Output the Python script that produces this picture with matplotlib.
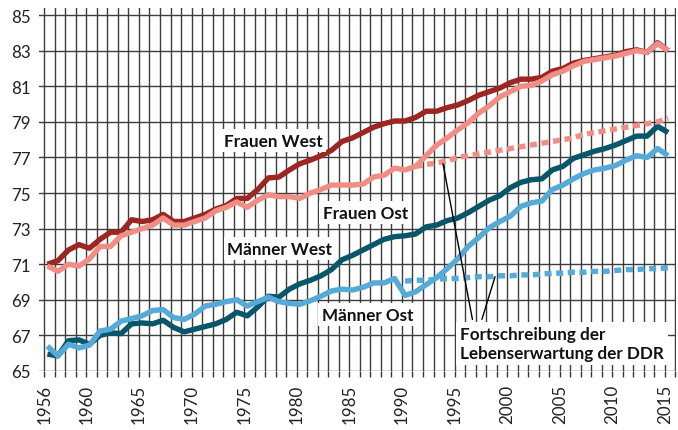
import numpy as np
import matplotlib
matplotlib.use("Agg")
import matplotlib.pyplot as plt

# life expectancy at birth, 1956-2015
years = np.arange(1956, 2016)

frauen_west = [71.0, 71.2, 71.8, 72.1, 71.9, 72.4, 72.8, 72.8, 73.5, 73.4,
               73.5, 73.8, 73.4, 73.4, 73.6, 73.8, 74.1, 74.3, 74.7, 74.7,
               75.2, 75.85, 75.9, 76.3, 76.65, 76.85, 77.1, 77.4, 77.9, 78.1,
               78.4, 78.7, 78.9, 79.05, 79.05, 79.25, 79.6, 79.6, 79.8, 79.95,
               80.2, 80.5, 80.7, 80.9, 81.2, 81.4, 81.4, 81.5, 81.85, 82.0,
               82.3, 82.45, 82.55, 82.65, 82.75, 82.95, 83.05, 82.9, 83.45, 83.0]

frauen_ost = [70.9, 70.6, 71.0, 70.9, 71.3, 72.0, 72.0, 72.6, 72.8, 73.0,
              73.2, 73.6, 73.2, 73.2, 73.4, 73.6, 74.0, 74.2, 74.5, 74.2,
              74.6, 74.9, 74.8, 74.8, 74.7, 75.0, 75.2, 75.45, 75.45, 75.45,
              75.5, 75.9, 76.0, 76.4, 76.3, 76.5, 77.1, 77.7, 78.1, 78.55,
              78.95, 79.5, 79.9, 80.4, 80.7, 81.0, 81.05, 81.3, 81.65, 81.85,
              82.15, 82.4, 82.5, 82.6, 82.7, 82.85, 83.0, 82.9, 83.4, 83.0]

maenner_west = [65.95, 65.85, 66.7, 66.75, 66.5, 67.0, 67.15, 67.1, 67.65, 67.7,
                67.65, 67.85, 67.45, 67.2, 67.35, 67.5, 67.65, 67.9, 68.3, 68.1,
                68.6, 69.2, 69.15, 69.6, 69.9, 70.1, 70.35, 70.7, 71.25, 71.5,
                71.8, 72.1, 72.4, 72.55, 72.6, 72.7, 73.1, 73.2, 73.45, 73.6,
                73.9, 74.25, 74.6, 74.85, 75.3, 75.6, 75.75, 75.8, 76.3, 76.5,
                76.95, 77.15, 77.35, 77.5, 77.7, 77.95, 78.2, 78.2, 78.75, 78.4]

maenner_ost = [66.4, 65.85, 66.5, 66.3, 66.45, 67.25, 67.35, 67.8, 67.95, 68.1,
               68.4, 68.45, 68.0, 67.9, 68.2, 68.65, 68.75, 68.9, 69.0, 68.65,
               68.9, 69.15, 68.9, 68.8, 68.75, 68.95, 69.2, 69.5, 69.6, 69.55,
               69.7, 69.95, 69.95, 70.2, 69.25, 69.45, 69.85, 70.25, 70.75, 71.3,
               72.0, 72.5, 73.05, 73.4, 73.7, 74.25, 74.45, 74.55, 75.2, 75.45,
               75.8, 76.1, 76.3, 76.4, 76.55, 76.85, 77.1, 77.0, 77.5, 77.1]

# Fortschreibung der DDR-Lebenserwartung
proj_frauen_years = np.arange(1991, 2016)
proj_frauen = [76.5, 76.6, 76.7, 76.8, 77.0, 77.1, 77.2, 77.3, 77.4, 77.5,
               77.6, 77.7, 77.8, 77.9, 78.0, 78.1, 78.3, 78.4, 78.5, 78.6,
               78.7, 78.8, 78.9, 79.0, 79.2]
proj_maenner_years = np.arange(1990, 2016)
proj_maenner = [70.05, 70.1, 70.1, 70.15, 70.2, 70.2, 70.25, 70.3, 70.3, 70.35,
                70.35, 70.4, 70.4, 70.45, 70.5, 70.5, 70.55, 70.55, 70.6, 70.6,
                70.65, 70.7, 70.7, 70.75, 70.75, 70.8]

label_years = [1956, 1960, 1965, 1970, 1975, 1980, 1985, 1990, 1995, 2000,
               2005, 2010, 2015]
y_ticks = [65, 67, 69, 71, 73, 75, 77, 79, 81, 83, 85]

c_fw = '#9b2622'
c_fo = '#f08e86'
c_mw = '#07566a'
c_mo = '#56aad8'

# values are plotted a little after the year gridline (mid-year)
mid = 0.3

fig = plt.figure(figsize=(6.78, 4.31), dpi=100)
ax = fig.add_axes([39 / 678, 59 / 431, 637 / 678, 363 / 431])

lw = 3.9
ax.plot(years + mid, frauen_west, color=c_fw, lw=lw, solid_capstyle='butt', zorder=3)
ax.plot(years + mid, frauen_ost, color=c_fo, lw=lw, solid_capstyle='butt', zorder=3)
ax.plot(years + mid, maenner_west, color=c_mw, lw=lw, solid_capstyle='butt', zorder=3)
ax.plot(years + mid, maenner_ost, color=c_mo, lw=lw, solid_capstyle='butt', zorder=3)
ax.plot(proj_frauen_years + mid, proj_frauen, color=c_fo, lw=lw,
        linestyle=(0, (1.3, 0.85)), dash_capstyle='butt', zorder=3)
ax.plot(proj_maenner_years + mid, proj_maenner, color=c_mo, lw=lw,
        linestyle=(0, (1.3, 0.85)), dash_capstyle='butt', zorder=3)

ax.set_xlim(1955.5, 2016.05)
ax.set_ylim(65, 85.4)

ax.set_xticks(years.tolist() + [2016])
ax.set_xticklabels([str(y) if y in label_years else '' for y in years] + [''],
                   rotation=90, family='Lato', fontsize=12.2)
ax.set_yticks(y_ticks)
ax.set_yticklabels([str(v) for v in y_ticks], family='Lato', fontsize=12.2)
ax.tick_params(axis='x', length=4.5, width=1.0, color='#333333', pad=5,
               labelcolor='#222222')
ax.tick_params(axis='y', length=0, pad=6, labelcolor='#222222')

ax.grid(True, color='#3c3c3c', lw=1.0)
ax.set_axisbelow(True)
for s in ax.spines.values():
    s.set_visible(False)

box = dict(facecolor='white', edgecolor='none', boxstyle='square,pad=0.2')
tkw = dict(family='Lato', fontweight='bold', fontsize=12.3, color='#111111',
           ha='center', va='center', bbox=box, zorder=6)
ax.text(1977.75, 77.95, 'Frauen West', **tkw)
ax.text(1986.5, 73.9, 'Frauen Ost', **tkw)
ax.text(1978.4, 71.87, 'Männer West', **tkw)
ax.text(1986.7, 68.17, 'Männer Ost', **tkw)

# leader lines to the projections
ax.annotate('', xy=(1993.9, 76.65), xytext=(1996.7, 67.9),
            arrowprops=dict(arrowstyle='-', lw=1.0, color='black',
                            shrinkA=0, shrinkB=0), zorder=5)
ax.annotate('', xy=(1998.85, 70.3), xytext=(1997.6, 67.9),
            arrowprops=dict(arrowstyle='-', lw=1.0, color='black',
                            shrinkA=0, shrinkB=0), zorder=5)
ax.text(1995.55, 66.55, 'Fortschreibung der\nLebenserwartung der DDR',
        family='Lato', fontweight='bold', fontsize=12.3, color='#111111',
        ha='left', va='center', linespacing=1.2, zorder=6,
        bbox=dict(facecolor='white', edgecolor='none', boxstyle='square,pad=0.25'))

fig.savefig('out.png', dpi=100)
